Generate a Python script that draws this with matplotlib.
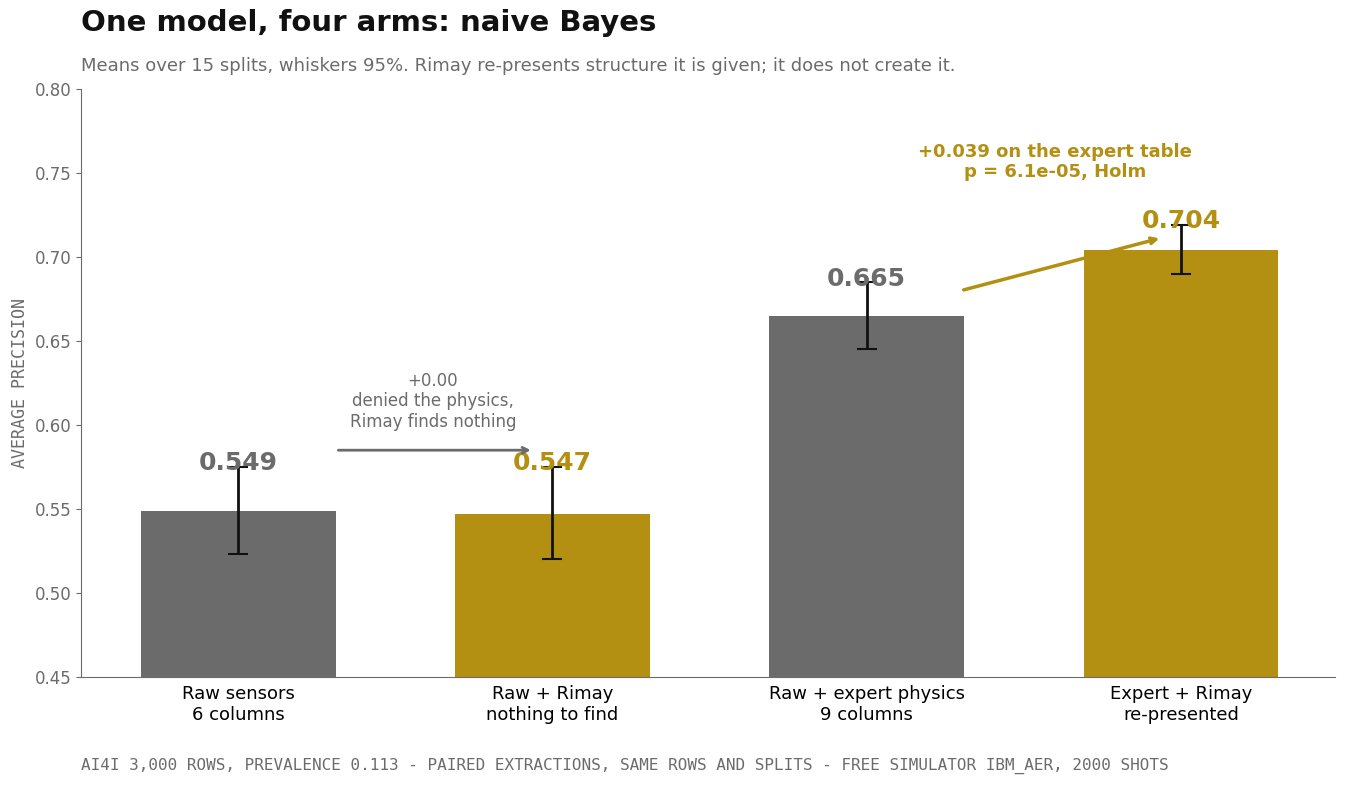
import matplotlib.pyplot as plt

# values
arms = ["Raw sensors\n6 columns", "Raw + Rimay\nnothing to find",
        "Raw + expert physics\n9 columns", "Expert + Rimay\nre-presented"]
means = [0.549, 0.547, 0.665, 0.704]
lows = [0.523, 0.520, 0.645, 0.690]
highs = [0.575, 0.575, 0.685, 0.719]

GRAY = "#6b6b6b"
GOLD = "#b38f12"
colors = [GRAY, GOLD, GRAY, GOLD]

fig = plt.figure(figsize=(13.45, 7.85), dpi=100)
ax = fig.add_axes([81 / 1345, 1 - 677 / 785, 1254 / 1345, 588 / 785])

x = range(len(arms))
ax.bar(x, means, width=0.62, color=colors)
yerr = [[m - lo for m, lo in zip(means, lows)], [hi - m for m, hi in zip(means, highs)]]
ax.errorbar(x, means, yerr=yerr, fmt="none", ecolor="#111111", elinewidth=2, capsize=7, capthick=1.5)

for i, (m, hi) in enumerate(zip(means, highs)):
    ax.text(i, hi - 0.005, f"{m:.3f}", ha="center", va="bottom",
            fontsize=18, fontweight="bold", color=colors[i])

ax.annotate("", xy=(0.94, 0.585), xytext=(0.31, 0.585),
            arrowprops=dict(arrowstyle="->", color=GRAY, lw=2))
ax.text(0.62, 0.614, "+0.00\ndenied the physics,\nRimay finds nothing",
        ha="center", va="center", fontsize=12, color=GRAY)

ax.annotate("", xy=(2.94, 0.7115), xytext=(2.30, 0.680),
            arrowprops=dict(arrowstyle="->", color=GOLD, lw=2.5))
ax.text(2.60, 0.7565, "+0.039 on the expert table\np = 6.1e-05, Holm",
        ha="center", va="center", fontsize=13, fontweight="bold", color=GOLD)

ax.set_ylim(0.45, 0.80)
ax.set_xlim(-0.5 - 0.0, 3.49)
ax.set_xticks(list(x))
ax.set_xticklabels(arms, fontsize=13)
ax.tick_params(axis="x", length=0, pad=6)
ax.tick_params(axis="y", labelsize=12, labelcolor=GRAY, color=GRAY)
ax.set_ylabel("AVERAGE PRECISION", family="monospace", fontsize=12, color=GRAY)
for s in ("top", "right"):
    ax.spines[s].set_visible(False)
for s in ("left", "bottom"):
    ax.spines[s].set_color(GRAY)

fig.text(81 / 1345, 1 - 23 / 785, "One model, four arms: naive Bayes",
         fontsize=21, fontweight="bold", color="#111111", va="center")
fig.text(81 / 1345, 1 - 66 / 785,
         "Means over 15 splits, whiskers 95%. Rimay re-presents structure it is given; it does not create it.",
         fontsize=13, color=GRAY, va="center")
fig.text(81 / 1345, 1 - 766 / 785,
         "AI4I 3,000 ROWS, PREVALENCE 0.113 - PAIRED EXTRACTIONS, SAME ROWS AND SPLITS - FREE SIMULATOR IBM_AER, 2000 SHOTS",
         fontsize=11.5, family="monospace", color=GRAY, va="center")

fig.savefig("out.png", dpi=100)
